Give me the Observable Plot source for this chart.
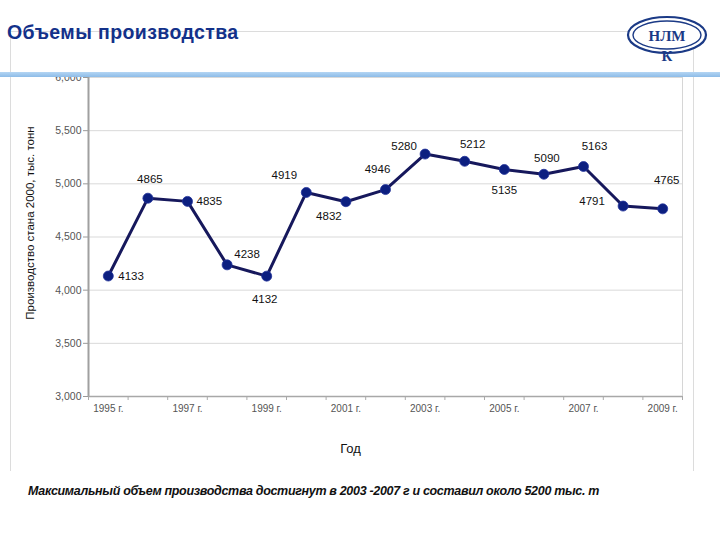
<!DOCTYPE html>
<html>
<head>
<meta charset="utf-8">
<script src="https://cdn.jsdelivr.net/npm/d3@7"></script>
<script src="https://cdn.jsdelivr.net/npm/@observablehq/plot@0.6"></script>
<style>
  html, body { margin: 0; padding: 0; background: #fff; }
  #page { position: relative; width: 720px; height: 540px; overflow: hidden; font-family: "Liberation Sans", Arial, sans-serif; }
  #chart { position: absolute; left: 0; top: 0; }
  #frame { position: absolute; left: 10px; top: 31px; width: 684px; height: 440px; border: 1px solid #dcdcdc; border-bottom: none; box-sizing: border-box; }
  #title { position: absolute; left: 7px; top: 22px; font-size: 19.5px; font-weight: bold; color: #13318a; letter-spacing: 0.4px; line-height: 20px; }
  #bar { position: absolute; left: 0; top: 72px; width: 720px; height: 5px; background: linear-gradient(#b4d5f3, #8dbce8); }
  #logo { position: absolute; left: 624px; top: 14px; }
  #caption { position: absolute; left: 28px; top: 484px; font-size: 12.5px; font-weight: bold; font-style: italic; color: #111; letter-spacing: -0.32px; }
</style>
</head>
<body>
<div id="page">
  <div id="frame"></div>
  <div id="chart"></div>
  <div id="bar"></div>
  <div id="title">Объемы производства</div>
  <svg id="logo" width="86" height="52" viewBox="0 0 86 52">
    <ellipse cx="43" cy="21" rx="39" ry="18" fill="#fff" stroke="#1b3a86" stroke-width="2.2"/>
    <ellipse cx="43" cy="21" rx="34" ry="14" fill="none" stroke="#1b3a86" stroke-width="1.4"/>
    <text x="43" y="27" text-anchor="middle" font-family="'Liberation Serif', 'DejaVu Serif', serif" font-weight="bold" font-size="15" fill="#1b3a86">НЛМ</text>
    <text x="43" y="47" text-anchor="middle" font-family="'Liberation Serif', 'DejaVu Serif', serif" font-weight="bold" font-size="15" fill="#1b3a86">К</text>
  </svg>
  <div id="caption">Максимальный объем производства достигнут в 2003 -2007 г и составил около 5200 тыс. т</div>
</div>
<script>
// Data
const years = [1995, 1996, 1997, 1998, 1999, 2000, 2001, 2002, 2003, 2004, 2005, 2006, 2007, 2008, 2009];
const values = [4133, 4865, 4835, 4238, 4132, 4919, 4832, 4946, 5280, 5212, 5135, 5090, 5163, 4791, 4765];
const yTicks = [3000, 3500, 4000, 4500, 5000, 5500, 6000];
const xLabelYears = [1995, 1997, 1999, 2001, 2003, 2005, 2007, 2009];
const yTitle = "Производство стана 2000, тыс. тонн";
const xTitle = "Год";

// Label placement (styling): [dx, dy, anchor]
const labelOffsets = [
  [10, 0, "start"], [2, -19, "middle"], [9, 0, "start"], [20, -11, "middle"], [-2, 23, "middle"],
  [-22, -17, "middle"], [-17, 15, "middle"], [-8, -20, "middle"], [-21, -8, "middle"], [8, -17, "middle"],
  [0, 21, "middle"], [3, -16, "middle"], [11, -20, "middle"], [-31, -5, "middle"], [4, -29, "middle"]
];

const data = years.map((y, i) => ({year: y, value: values[i]}));
const bounds = years.map(y => y - 0.5).concat([years[years.length - 1] + 0.5]);
const xDomain = [bounds[0], bounds[bounds.length - 1]];

const labelMarks = data.map((d, i) => Plot.text([d], {
  x: "year", y: "value", text: d => String(d.value),
  dx: labelOffsets[i][0], dy: labelOffsets[i][1], textAnchor: labelOffsets[i][2],
  fontSize: 11.5, fill: "#111", fontWeight: 500
}));

const chart = Plot.plot({
  width: 720,
  height: 540,
  marginLeft: 88,
  marginRight: 38,
  marginTop: 77,
  marginBottom: 144,
  style: {fontFamily: "'Liberation Sans', Arial, sans-serif", background: "transparent", overflow: "visible"},
  x: {domain: xDomain},
  y: {domain: [yTicks[0], yTicks[yTicks.length - 1]]},
  marks: [
    Plot.frame({stroke: "#d6d6d6"}),
    Plot.gridY(yTicks, {stroke: "#d9d9d9", strokeOpacity: 1}),
    Plot.axisY(yTicks, {tickFormat: d3.format(","), tickSize: 5, tickPadding: 2, fontSize: 10.5, color: "#555", stroke: "#999", label: null}),
    Plot.axisX(bounds, {tickFormat: () => "", tickSize: 4, stroke: "#aaa", label: null}),
    Plot.axisX(xLabelYears, {tickFormat: d => `${d} г.`, tickSize: 0, tickPadding: 8, fontSize: 10, color: "#555", label: null}),
    Plot.ruleX([xDomain[0]], {stroke: "#a0a0a0", strokeWidth: 2}),
    Plot.ruleY([yTicks[0]], {stroke: "#a8a8a8", strokeWidth: 1.5}),
    Plot.line(data, {x: "year", y: "value", stroke: "#16185c", strokeWidth: 3}),
    Plot.dot(data, {x: "year", y: "value", r: 5, fill: "#0c1f80", stroke: "#23339a", strokeWidth: 0.8}),
    ...labelMarks,
    Plot.text([yTitle], {frameAnchor: "left", textAnchor: "middle", rotate: -90, dx: -58, dy: -14, fontSize: 11.5, fill: "#111", text: d => d, letterSpacing: 0.5}),
    Plot.text([xTitle], {frameAnchor: "bottom", dx: -35, dy: 56, fontSize: 13, fill: "#111", text: d => d})
  ]
});
document.getElementById("chart").appendChild(chart);
</script>
</body>
</html>
